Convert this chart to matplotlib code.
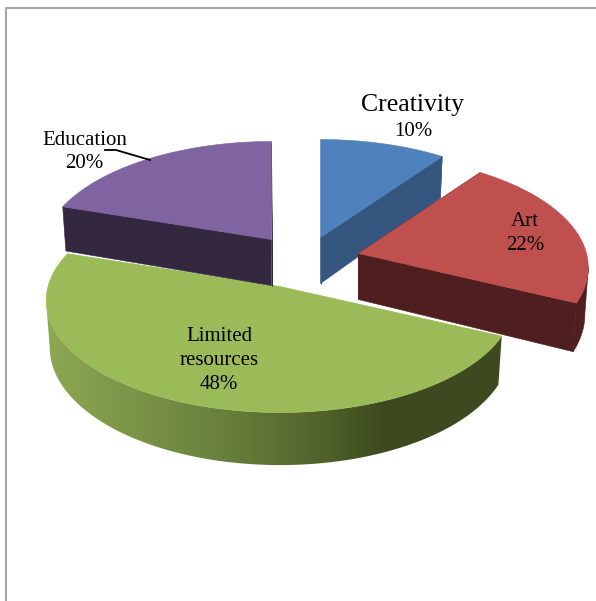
import numpy as np
import matplotlib
matplotlib.use('Agg')
import matplotlib.pyplot as plt
from matplotlib.colors import LinearSegmentedColormap
from matplotlib.patches import Polygon

labels = ['Creativity', 'Art', 'Limited\nresources', 'Education']
values = [10, 22, 48, 20]

top_colors  = ['#4F81BD', '#C0504D', '#9BBB59', '#8064A2']
side_colors = ['#34567F', '#4E1F1E', None, '#33283F']
apex  = [(320.5, 237.5), (358.5, 253.5), (280, 286.5), (271.5, 239.5)]   # exploded slice tips, px
radii = [228, 228, 232, 228]

RY, K, DEPTH, SHRINK = 110.25, 0.125, 46, 0.985
green_wall = LinearSegmentedColormap.from_list('wall', [
    (0.0, '#8DA853'), (0.4, '#677F3B'), (0.62, '#4F6029'), (0.74, '#3D4A1F'), (1.0, '#3D4A1F')])

plt.rcParams['font.family'] = ['Liberation Serif', 'DejaVu Serif']

fig = plt.figure(figsize=(5.96, 6.01), dpi=100)
ax = fig.add_axes([0, 0, 1, 1])
ax.axis('off')


def rim(t, c, r, low=False):
    # circle on the pie plane, seen with a bit of perspective
    w = 1 + K * np.cos(t)
    x = r * np.sin(t) / w
    y = -RY * np.cos(t) / w
    if low:
        return c[0] + x * SHRINK, c[1] + y + DEPTH / w
    return c[0] + x, c[1] + y


edges = np.radians(np.cumsum([0] + values) * 3.6)

for i in [0, 3, 1, 2]:
    t0, t1, c, r = edges[i], edges[i + 1], apex[i], radii[i]
    t = np.linspace(t0, t1, 300)
    x, y = rim(t, c, r); xb, yb = rim(t, c, r, True)
    # wall only between the right and left silhouette points
    ia = np.argmax(x); ib = ia + np.argmin(x[ia:]) + 1
    wall = np.c_[np.r_[x[ia:ib], xb[ia:ib][::-1]], np.r_[y[ia:ib], yb[ia:ib][::-1]]]
    if side_colors[i] is None:
        clip = Polygon(wall, transform=ax.transData, fc='none', ec='none')
        ax.add_patch(clip)
        im = ax.imshow(np.linspace(0, 1, 256)[None, :], cmap=green_wall, aspect='auto',
                       extent=[46, 502, 480, 250], zorder=i + 1)
        im.set_clip_path(clip)
    else:
        ax.fill(wall[:, 0], wall[:, 1], fc=side_colors[i], ec=side_colors[i], lw=0.4, zorder=i + 1)
        # cut faces
        for a in (t0, t1):
            rx_, ry_ = rim(a, c, r); rxb, ryb = rim(a, c, r, True)
            ax.fill([c[0], rx_, rxb, c[0]], [c[1], ry_, ryb, c[1] + DEPTH],
                    fc=side_colors[i], ec=side_colors[i], lw=0.4, zorder=i + 1)
    # top
    ax.fill(np.r_[c[0], x], np.r_[c[1], y], color=top_colors[i], lw=0.4, zorder=i + 1.5)

ax.set_xlim(0, 596); ax.set_ylim(601, 0)

# chart frame
ax.plot([5.5, 5.5, 596], [601, 7.5, 7.5], color='#A6A6A6', lw=1.5, zorder=0)

# leader line for Education
ax.plot([105, 116, 150], [150, 150, 160], color='black', lw=1.3, zorder=10)

txt = dict(ha='center', va='center', color='black', zorder=11)
ax.text(413, 105, labels[0], fontsize=18.5, **txt)
ax.text(413, 132, f'{values[0]}%', fontsize=15, **txt)
ax.text(525, 233.5, f'{labels[1]}\n{values[1]}%', fontsize=15, linespacing=1.33, **txt)
ax.text(219, 360.5, f'{labels[2]}\n{values[2]}%', fontsize=15, linespacing=1.33, **txt)
ax.text(84.5, 152, f'{labels[3]}\n{values[3]}%', fontsize=15, linespacing=1.33, **txt)

fig.savefig('out.png', dpi=100)
